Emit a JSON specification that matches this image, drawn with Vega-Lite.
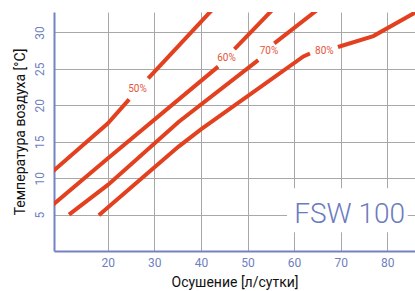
{
  "$schema": "https://vega.github.io/schema/vega-lite/v6.json",
  "width": 361,
  "height": 239,
  "autosize": "none",
  "padding": {"left": 54, "top": 12, "right": 0, "bottom": 40},
  "background": "white",
  "config": {
    "view": {"stroke": null},
    "font": "Roboto",
    "axis": {
      "domainColor": "#7282C2",
      "domainWidth": 2,
      "gridColor": "#A8A8A8",
      "gridWidth": 1,
      "ticks": false,
      "labelColor": "#6F7FC0",
      "labelFont": "Roboto",
      "labelFontSize": 12,
      "titleFont": "Roboto",
      "titleFontSize": 14,
      "titleFontWeight": "normal",
      "titleColor": "#111111"
    }
  },
  "datasets": {
    "curves": [
      {"rh": "50%", "seg": "50a", "x": 8.0, "y": 10.8},
      {"rh": "50%", "seg": "50a", "x": 20.0, "y": 17.5},
      {"rh": "50%", "seg": "50a", "x": 24.6, "y": 20.8},
      {"rh": "50%", "seg": "50b", "x": 28.7, "y": 23.7},
      {"rh": "50%", "seg": "50b", "x": 43.0, "y": 33.5},
      {"rh": "60%", "seg": "60a", "x": 8.0, "y": 6.2},
      {"rh": "60%", "seg": "60a", "x": 20.0, "y": 12.7},
      {"rh": "60%", "seg": "60a", "x": 43.7, "y": 25.3},
      {"rh": "60%", "seg": "60b", "x": 47.2, "y": 27.7},
      {"rh": "60%", "seg": "60b", "x": 55.5, "y": 33.2},
      {"rh": "70%", "seg": "70a", "x": 11.7, "y": 5.0},
      {"rh": "70%", "seg": "70a", "x": 20.1, "y": 9.1},
      {"rh": "70%", "seg": "70a", "x": 35.2, "y": 17.7},
      {"rh": "70%", "seg": "70a", "x": 52.3, "y": 26.2},
      {"rh": "70%", "seg": "70b", "x": 55.75, "y": 28.5},
      {"rh": "70%", "seg": "70b", "x": 65.0, "y": 33.1},
      {"rh": "80%", "seg": "80a", "x": 18.1, "y": 4.9},
      {"rh": "80%", "seg": "80a", "x": 35.15, "y": 14.3},
      {"rh": "80%", "seg": "80a", "x": 40.0, "y": 16.7},
      {"rh": "80%", "seg": "80a", "x": 62.0, "y": 26.7},
      {"rh": "80%", "seg": "80a", "x": 63.4, "y": 27.1},
      {"rh": "80%", "seg": "80b", "x": 69.4, "y": 28.0},
      {"rh": "80%", "seg": "80b", "x": 77.0, "y": 29.5},
      {"rh": "80%", "seg": "80b", "x": 87.0, "y": 33.1}
    ],
    "labels": [
      {"label": "50%", "x": 26.4, "y": 22.2},
      {"label": "60%", "x": 45.5, "y": 26.5},
      {"label": "70%", "x": 54.6, "y": 27.4},
      {"label": "80%", "x": 66.5, "y": 27.5}
    ],
    "badge": [
      {"name": "FSW 100", "x1": 58.48, "x2": 84.38, "y1": 2.57, "y2": 8.61, "tx": 71.9, "ty": 3.9}
    ]
  },
  "layer": [
    {
      "data": {"name": "curves"},
      "mark": {"type": "line", "clip": true, "color": "#E2401F", "strokeWidth": 4, "strokeCap": "butt"},
      "encoding": {
        "x": {"field": "x", "type": "quantitative", "scale": {"domain": [8.48, 85.94], "nice": false, "zero": false},
              "axis": {"orient": "bottom", "values": [20, 30, 40, 50, 60, 70, 80], "title": "Осушение [л/сутки]", "labelPadding": 6, "titlePadding": 7}},
        "y": {"field": "y", "type": "quantitative", "scale": {"domain": [0, 32.8], "nice": false, "zero": false},
              "axis": {"orient": "left", "values": [5, 10, 15, 20, 25, 30], "title": "Температура воздуха [°C]", "labelAngle": 270, "labelPadding": 8, "titlePadding": 6}},
        "detail": {"field": "seg", "type": "nominal"},
        "order": {"field": "x", "type": "quantitative"}
      }
    },
    {
      "data": {"name": "badge"},
      "mark": {"type": "rect", "color": "white"},
      "encoding": {
        "x": {"field": "x1", "type": "quantitative"},
        "x2": {"field": "x2"},
        "y": {"field": "y1", "type": "quantitative"},
        "y2": {"field": "y2"}
      }
    },
    {
      "mark": {"type": "rule", "color": "#7282C2", "strokeWidth": 2},
      "encoding": {"y": {"datum": 32.8, "type": "quantitative"}}
    },
    {
      "data": {"name": "labels"},
      "mark": {"type": "text", "color": "#E4553A", "fontSize": 10, "font": "Roboto", "align": "center", "baseline": "middle"},
      "encoding": {
        "x": {"field": "x", "type": "quantitative"},
        "y": {"field": "y", "type": "quantitative"},
        "text": {"field": "label"}
      }
    },
    {
      "data": {"name": "badge"},
      "mark": {"type": "text", "color": "#6B7BBF", "fontSize": 28, "font": "Roboto", "fontWeight": 300, "align": "center", "baseline": "alphabetic"},
      "encoding": {
        "x": {"field": "tx", "type": "quantitative"},
        "y": {"field": "ty", "type": "quantitative"},
        "text": {"field": "name"}
      }
    }
  ]
}
